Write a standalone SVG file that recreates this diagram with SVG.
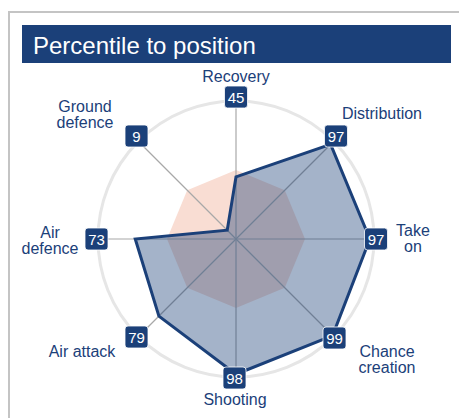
<svg xmlns="http://www.w3.org/2000/svg" width="459" height="418" viewBox="0 0 459 418">
<style>
.lbl{font-family:"Liberation Sans",Arial,sans-serif;font-size:16px;fill:#1b4079;text-anchor:middle}
.val{font-family:"Liberation Sans",Arial,sans-serif;font-size:15px;fill:#ffffff;text-anchor:middle}
.box{fill:#1b4079;stroke:#ffffff;stroke-width:0.8}
.spoke{stroke:#a8a8a8;stroke-width:1.2}
</style>
<rect width="459" height="418" fill="#ffffff"/>
<path d="M9 418 V12 H459" fill="none" stroke="#c4c4c4" stroke-width="2"/>
<g id="title">
<rect x="22" y="25" width="429" height="38" fill="#1b4079"/>
<text x="33" y="54" font-family="Liberation Sans,Arial,sans-serif" font-size="24" fill="#ffffff">Percentile to position</text>
</g>
<g id="grid">
<circle cx="236" cy="239" r="138" fill="none" stroke="#e6e6e6" stroke-width="3"/>
</g>
<g id="average">
<polygon points="236,170 284.8,190.2 305,239 284.8,287.8 236,308 187.2,287.8 167,239 187.2,190.2" fill="#f9ddd3"/>
</g>
<g id="connectors">
<line class="spoke" x1="236" y1="239" x2="236" y2="99"/>
<line class="spoke" x1="236" y1="239" x2="335" y2="140"/>
<line class="spoke" x1="236" y1="239" x2="376" y2="239"/>
<line class="spoke" x1="236" y1="239" x2="335" y2="338"/>
<line class="spoke" x1="236" y1="239" x2="236" y2="379"/>
<line class="spoke" x1="236" y1="239" x2="137" y2="338"/>
<line class="spoke" x1="236" y1="239" x2="96" y2="239"/>
<line class="spoke" x1="236" y1="239" x2="137" y2="140"/>
</g>
<g id="player">
<polygon points="236,176.9 330.65,144.35 369.86,239 332.6,335.6 236,374.24 158.91,316.09 135.26,239 227.22,230.22" fill="#1b4079" fill-opacity="0.4" stroke="#1b4079" stroke-width="3" stroke-linejoin="miter"/>
</g>
<g id="recovery">
<text class="lbl" x="236" y="82">Recovery</text>
<rect class="box" x="224.5" y="86" width="23" height="22" rx="3"/>
<text class="val" x="236" y="102.5">45</text>
</g>
<g id="distribution">
<text class="lbl" x="382" y="119">Distribution</text>
<rect class="box" x="324.5" y="125" width="23" height="22" rx="3"/>
<text class="val" x="336" y="141.5">97</text>
</g>
<g id="take-on">
<text class="lbl" x="413" y="236">Take</text>
<text class="lbl" x="413" y="252">on</text>
<rect class="box" x="364.5" y="228" width="23" height="22" rx="3"/>
<text class="val" x="376" y="244.5">97</text>
</g>
<g id="chance-creation">
<text class="lbl" x="387" y="357">Chance</text>
<text class="lbl" x="387" y="373">creation</text>
<rect class="box" x="323" y="327" width="23" height="22" rx="3"/>
<text class="val" x="334.5" y="343.5">99</text>
</g>
<g id="shooting">
<text class="lbl" x="235" y="405">Shooting</text>
<rect class="box" x="223" y="367" width="23" height="22" rx="3"/>
<text class="val" x="234.5" y="383.5">98</text>
</g>
<g id="air-attack">
<text class="lbl" x="82" y="357">Air attack</text>
<rect class="box" x="125" y="326" width="23" height="22" rx="3"/>
<text class="val" x="136.5" y="342.5">79</text>
</g>
<g id="air-defence">
<text class="lbl" x="50" y="238">Air</text>
<text class="lbl" x="50" y="254">defence</text>
<rect class="box" x="85" y="228" width="23" height="22" rx="3"/>
<text class="val" x="96.5" y="244.5">73</text>
</g>
<g id="ground-defence">
<text class="lbl" x="85" y="112">Ground</text>
<text class="lbl" x="85" y="128">defence</text>
<rect class="box" x="125" y="125" width="23" height="22" rx="3"/>
<text class="val" x="136.5" y="141.5">9</text>
</g>
</svg>
